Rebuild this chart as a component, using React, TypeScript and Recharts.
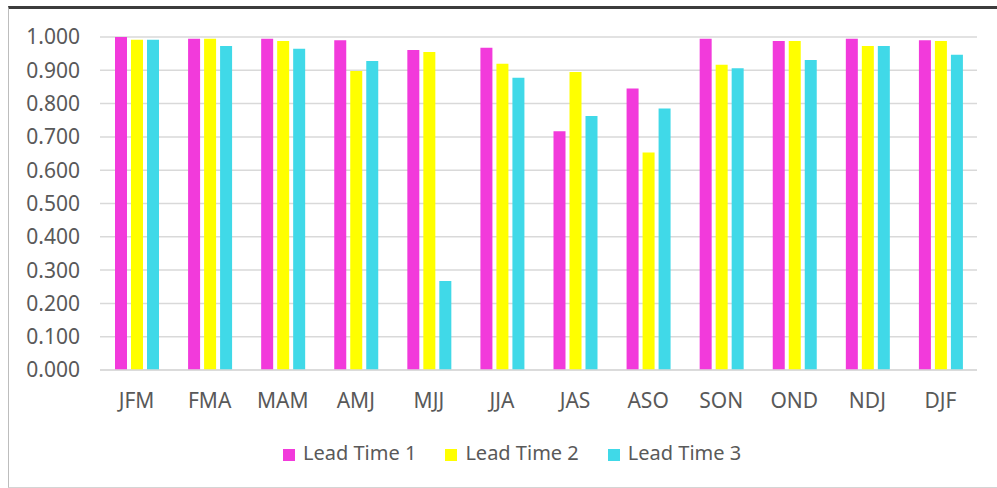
import {
  BarChart,
  Bar,
  CartesianGrid,
  XAxis,
  YAxis,
  Legend,
} from "recharts";

const seasons = ["JFM", "FMA", "MAM", "AMJ", "MJJ", "JJA", "JAS", "ASO", "SON", "OND", "NDJ", "DJF"];
const leadTime1 = [1.0, 0.995, 0.995, 0.99, 0.961, 0.968, 0.717, 0.845, 0.995, 0.988, 0.995, 0.99];
const leadTime2 = [0.992, 0.995, 0.988, 0.898, 0.955, 0.92, 0.895, 0.653, 0.917, 0.988, 0.973, 0.988];
const leadTime3 = [0.992, 0.973, 0.965, 0.928, 0.267, 0.878, 0.763, 0.785, 0.906, 0.931, 0.973, 0.947];
const yTicks = [0, 0.1, 0.2, 0.3, 0.4, 0.5, 0.6, 0.7, 0.8, 0.9, 1.0];

const seriesNames = ["Lead Time 1", "Lead Time 2", "Lead Time 3"];
const seriesColors = ["#F23ADB", "#FFFF00", "#40D9E8"];

const data = seasons.map((s, i) => ({
  season: s,
  "Lead Time 1": leadTime1[i],
  "Lead Time 2": leadTime2[i],
  "Lead Time 3": leadTime3[i],
}));

const textColor = "#595959";

export default function App() {
  return (
    <div style={{ position: "absolute", left: 0, top: 0, width: 997, height: 488, background: "#fff", fontFamily: "'Noto Sans', sans-serif" }}>
      <div
        style={{
          position: "absolute",
          left: 8,
          top: 6,
          width: 989,
          height: 482,
          boxSizing: "border-box",
          borderTop: "3px solid #3c3c3c",
          borderLeft: "1px solid #bdbdbd",
          borderBottom: "1px solid #d4d4d4",
        }}
      />
      <div style={{ position: "absolute", left: 0, top: 0 }}>
        <BarChart
          width={997}
          height={488}
          data={data}
          margin={{ top: 37, right: 20, bottom: 88, left: 10 }}
          barSize={12}
          barGap={4}
        >
          <CartesianGrid vertical={false} stroke="#d9d9d9" strokeWidth={1.5} />
          <XAxis
            dataKey="season"
            height={30}
            tickLine={false}
            axisLine={{ stroke: "#d9d9d9", strokeWidth: 1.5 }}
            tickMargin={17}
            tick={{ fill: textColor, fontSize: 21 }}
            interval={0}
          />
          <YAxis
            width={90}
            domain={[0, 1]}
            ticks={yTicks}
            interval={0}
            tickFormatter={(v: number) => v.toFixed(3)}
            tickLine={false}
            axisLine={false}
            tickMargin={14}
            tick={{ fill: textColor, fontSize: 21 }}
          />
          {/* middle + center keeps the legend from shrinking the plot area */}
          <Legend
            layout="horizontal"
            align="center"
            verticalAlign="middle"
            iconType="square"
            iconSize={12}
            wrapperStyle={{ left: 283, top: 439, width: "auto", fontSize: 20, lineHeight: "27px" }}
            formatter={(value: string) => (
              <span style={{ color: textColor, marginLeft: 4, marginRight: 19 }}>{value}</span>
            )}
          />
          {seriesNames.map((name, i) => (
            <Bar key={name} dataKey={name} fill={seriesColors[i]} isAnimationActive={false} />
          ))}
        </BarChart>
      </div>
    </div>
  );
}
